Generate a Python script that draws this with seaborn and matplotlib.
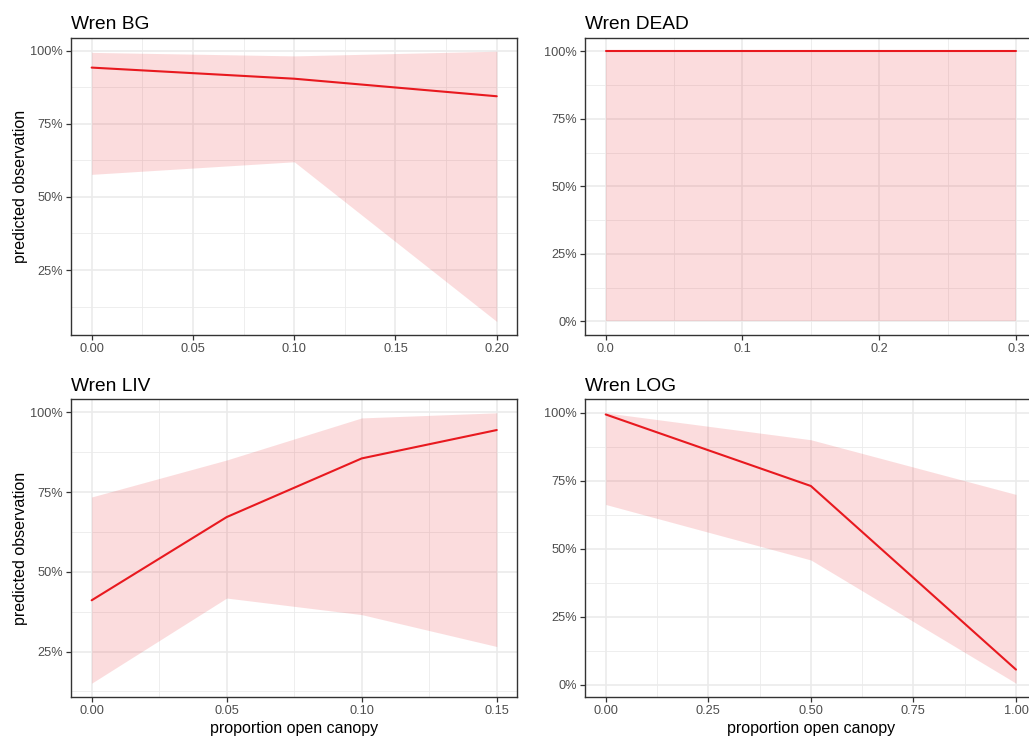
import numpy as np
import pandas as pd
import matplotlib
matplotlib.use("Agg")
import matplotlib.pyplot as plt
from matplotlib.ticker import FuncFormatter, FixedLocator
import seaborn as sns

# ---- data ----
panels = ["Wren BG", "Wren DEAD", "Wren LIV", "Wren LOG"]

bg_x = [0.0, 0.1, 0.2]
bg_fit = [0.942, 0.904, 0.844]
bg_lo = [0.577, 0.620, 0.074]
bg_hi = [0.994, 0.982, 0.998]

dead_x = [0.0, 0.1, 0.2, 0.3]
dead_fit = [1.0, 1.0, 1.0, 1.0]
dead_lo = [0.0, 0.0, 0.0, 0.0]
dead_hi = [1.0, 1.0, 1.0, 1.0]

liv_x = [0.0, 0.05, 0.10, 0.15]
liv_fit = [0.411, 0.672, 0.856, 0.945]
liv_lo = [0.151, 0.418, 0.366, 0.266]
liv_hi = [0.735, 0.851, 0.983, 0.999]

log_x = [0.0, 0.5, 1.0]
log_fit = [0.994, 0.731, 0.056]
log_lo = [0.663, 0.459, 0.006]
log_hi = [1.0, 0.901, 0.700]

xticks = {
    "Wren BG": [0.0, 0.05, 0.10, 0.15, 0.20],
    "Wren DEAD": [0.0, 0.1, 0.2, 0.3],
    "Wren LIV": [0.0, 0.05, 0.10, 0.15],
    "Wren LOG": [0.0, 0.25, 0.50, 0.75, 1.00],
}
xfmt = {"Wren BG": "{:.2f}", "Wren DEAD": "{:.1f}", "Wren LIV": "{:.2f}", "Wren LOG": "{:.2f}"}
yticks = [0.0, 0.25, 0.50, 0.75, 1.00]

frames = []
for name, xs, f, lo, hi in [
    ("Wren BG", bg_x, bg_fit, bg_lo, bg_hi),
    ("Wren DEAD", dead_x, dead_fit, dead_lo, dead_hi),
    ("Wren LIV", liv_x, liv_fit, liv_lo, liv_hi),
    ("Wren LOG", log_x, log_fit, log_lo, log_hi),
]:
    frames.append(pd.DataFrame({"panel": name, "x": xs, "fit": f, "lo": lo, "hi": hi}))
df = pd.concat(frames, ignore_index=True)

# ---- style ----
sns.set_style("white")
plt.rcParams["font.family"] = ["Liberation Sans", "DejaVu Sans"]

W, H = 1029, 741
fig = plt.figure(figsize=(W / 100, H / 100), dpi=100)

LINE = "#E8191F"
GRID = "#EBEBEB"
DARK = "#333333"
TICKC = "#4D4D4D"

def rect(l, t, r, b):
    return [l / W, 1 - b / H, (r - l) / W, (b - t) / H]

positions = {
    "Wren BG": rect(71.4, 37.7, 517.0, 335.0),
    "Wren DEAD": rect(585.2, 37.7, 1036.5, 335.0),
    "Wren LIV": rect(71.4, 399.3, 517.0, 696.7),
    "Wren LOG": rect(585.2, 399.3, 1036.5, 696.7),
}

for name in panels:
    d = df[df["panel"] == name]
    ax = fig.add_axes(positions[name])
    ax.fill_between(d["x"], d["lo"], d["hi"], color=LINE, alpha=0.15, linewidth=0, zorder=2)
    sns.lineplot(data=d, x="x", y="fit", ax=ax, color=LINE, linewidth=1.5, zorder=3,
                 estimator=None, sort=True)

    xmin, xmax = d["x"].min(), d["x"].max()
    xe = (xmax - xmin) * 0.05
    ax.set_xlim(xmin - xe, xmax + xe)
    ymin, ymax = d["lo"].min(), d["hi"].max()
    ye = (ymax - ymin) * 0.05
    ax.set_ylim(ymin - ye, ymax + ye)

    xt = xticks[name]
    ax.xaxis.set_major_locator(FixedLocator(xt))
    ax.xaxis.set_minor_locator(FixedLocator([(a + b) / 2 for a, b in zip(xt[:-1], xt[1:])]))
    ax.yaxis.set_major_locator(FixedLocator(yticks))
    ax.yaxis.set_minor_locator(FixedLocator([(a + b) / 2 for a, b in zip(yticks[:-1], yticks[1:])]))
    fmt = xfmt[name]
    ax.xaxis.set_major_formatter(FuncFormatter(lambda v, p, fmt=fmt: fmt.format(v)))
    ax.yaxis.set_major_formatter(FuncFormatter(lambda v, p: f"{v * 100:.0f}%"))

    ax.grid(True, which="major", color=GRID, linewidth=1.2, zorder=0)
    ax.grid(True, which="minor", color=GRID, linewidth=0.6, zorder=0)
    ax.set_axisbelow(True)

    for s in ax.spines.values():
        s.set_color(DARK)
        s.set_linewidth(1.0)
        s.set_visible(True)
    ax.tick_params(which="major", direction="out", length=3.5, width=0.9, color=DARK,
                   labelsize=9.2, labelcolor=TICKC, pad=2.5, bottom=True, left=True)
    ax.tick_params(which="minor", length=0)

    ax.set_title(name, loc="left", fontsize=13.8, color="black", pad=6)

    if name in ("Wren BG", "Wren LIV"):
        ax.set_ylabel("predicted observation", fontsize=11.5, color="black", labelpad=2)
    else:
        ax.set_ylabel("")
    if name in ("Wren LIV", "Wren LOG"):
        ax.set_xlabel("proportion open canopy", fontsize=11.5, color="black", labelpad=3)
    else:
        ax.set_xlabel("")

fig.savefig("out.png", dpi=100)
